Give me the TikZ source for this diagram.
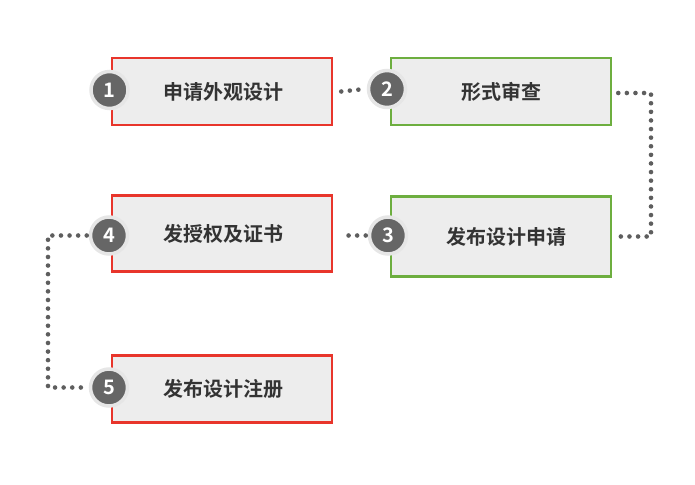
\documentclass[tikz,border=0pt]{standalone}
\usepackage{fontspec}
\newfontfamily\cjk{Noto Sans CJK SC}[BoldFont={Noto Sans CJK SC Bold}]
\definecolor{redb}{HTML}{E8352B}
\definecolor{greenb}{HTML}{6DAE3F}
\definecolor{boxfill}{HTML}{EDEDED}
\definecolor{badgedark}{HTML}{666666}
\definecolor{badgering}{HTML}{E6E6E6}
\definecolor{txt}{HTML}{333333}
\definecolor{dotc}{HTML}{5E5E5E}
\tikzset{
  stepbox/.style={draw, line width=2.5pt, fill=boxfill, minimum width=220pt, minimum height=67pt, inner sep=0pt,
    font=\cjk\bfseries\fontsize{20}{20}\selectfont, text=txt},
  redbox/.style={stepbox, draw=redb},
  greenbox/.style={stepbox, draw=greenb},
  badge/.style={circle, fill=badgedark, draw=badgering, line width=3.5pt, minimum size=37pt, inner sep=0pt,
    font=\cjk\bfseries\fontsize{20}{20}\selectfont, text=white},
  dotline/.style={draw=dotc, line width=4.6pt, line cap=round, dash pattern=on 0pt off 8.6pt}
}
\begin{document}
\begin{tikzpicture}[x=1pt,y=-1pt]
\useasboundingbox (0,0) rectangle (695,484);
% boxes
\node[redbox] (n1) at (222,91.5) {\hspace*{2pt}申请外观设计};
\node[greenbox] (n2) at (501,91.5) {形式审查};
\node[greenbox, minimum height=80pt] (n3) at (501,236.5) {\hspace*{10pt}发布设计申请};
\node[redbox, minimum height=76pt] (n4) at (222,233.5) {\hspace*{2pt}发授权及证书};
\node[redbox] (n5) at (222,389) {\hspace*{2pt}发布设计注册};
% badges
\node[badge] (b1) at (109.5,90) {1};
\node[badge] (b2) at (387,89) {2};
\node[badge] (b3) at (388,235.5) {3};
\node[badge] (b4) at (109,235.5) {4};
\node[badge] (b5) at (109,387.5) {5};
% connectors
\coordinate (c1) at (651,93);
\coordinate (c2) at (48,237);
\path[dotline] ([xshift=8pt]n1.east) -- ([xshift=-2pt]b2.west);
\path[dotline] ([xshift=6pt]n2.east |- c1) -- (c1) -- (c1 |- n3.east) -- ([xshift=6pt]n3.east);
\path[dotline] ([xshift=-2pt]b3.west) -- ([xshift=8pt]b3.west -| n4.east);
\path[dotline] ([xshift=-2pt]b4.west) -- (b4.west -| c2) -- (c2 |- b5.west) -- ([xshift=-2pt]b5.west);
\end{tikzpicture}
\end{document}
